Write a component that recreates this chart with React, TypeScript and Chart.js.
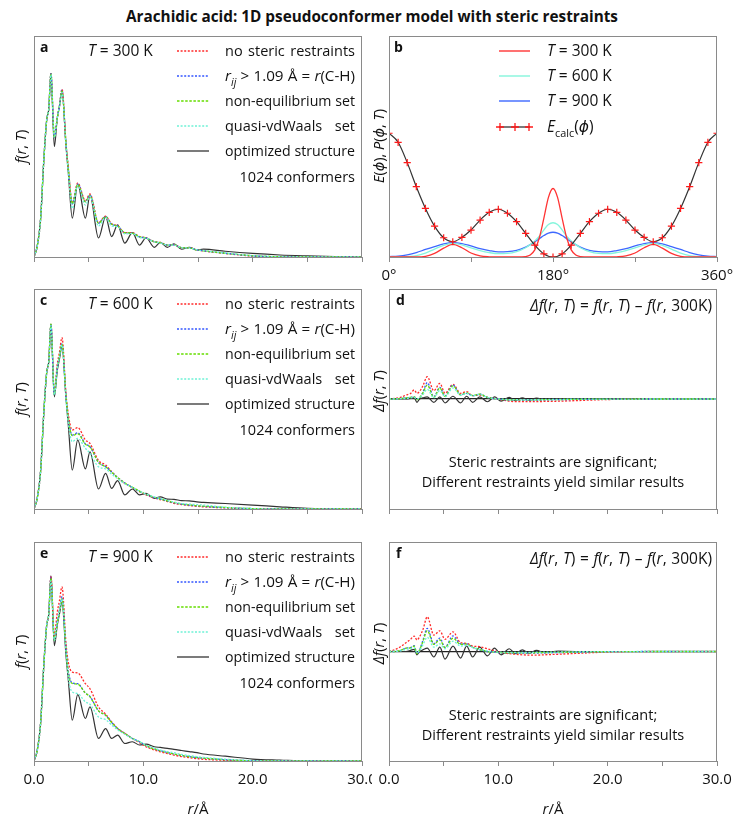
import React, { useEffect, useRef } from "react";
import { Chart, registerables } from "chart.js";
Chart.register(...registerables);

// ---------------- data ----------------
// r grid (Å) for f(r,T) panels
const R = [0, 0.3, 0.6, 0.9, 1.16, 1.35, 1.55, 1.86, 2.13, 2.32, 2.56, 2.93, 3.14, 3.5, 4.0, 4.7, 5.12, 5.9, 6.55, 7.1, 7.65, 8.3, 9.0, 9.65, 10.25, 11.0, 11.55, 12.2, 12.8, 13.5, 14.2, 14.9, 15.5, 17.5, 20, 22.5, 25, 27.5, 30];

// panel a, T = 300 K
const A_BLACK = [0, 5, 17, 44, 62, 67, 83, 50, 63, 68, 75, 50, 38, 17.6, 33, 17.6, 28, 8.6, 18.2, 9.2, 14.5, 6.3, 11, 5.4, 8.7, 4.4, 6.6, 4.4, 5.9, 3.5, 4.4, 3.2, 3.6, 2.6, 1.6, 0.9, 0.5, 0.2, 0];
const A_RED = [0, 5, 17, 44, 62, 67, 83, 54, 63, 68, 76, 51, 40, 24.4, 33.5, 25.5, 28.5, 15.5, 18.5, 15, 14.2, 11, 11, 9.2, 8.7, 6.9, 6.6, 5.4, 5.6, 4.2, 4.2, 3.2, 2.7, 1.6, 0.4, 0.1, 0, 0, 0];
const A_BLUE = [0, 5, 17, 44, 62, 67, 83, 54, 63, 68, 75.5, 51, 40, 24, 33, 25, 28, 15.3, 18.3, 14.8, 14, 11, 10.8, 9.1, 8.6, 6.9, 6.5, 5.4, 5.5, 4.2, 4.1, 3.2, 2.8, 1.7, 0.5, 0.1, 0, 0, 0];
const A_GREEN = [0, 5, 17, 44, 62, 67, 83, 54, 63, 68, 75, 51, 40, 24, 32.8, 25, 27.8, 15.3, 18.2, 14.8, 14, 11, 10.8, 9.1, 8.6, 6.9, 6.5, 5.4, 5.5, 4.2, 4.1, 3.2, 2.8, 1.7, 0.6, 0.1, 0, 0, 0];
const A_CYAN = [0, 5, 17, 44, 62, 67, 82.5, 54, 63, 68, 74.5, 50, 38, 22, 32.5, 23.5, 27.5, 14, 17.8, 14, 13.8, 10.5, 10.6, 8.8, 8.5, 6.8, 6.4, 5.4, 5.4, 4.2, 4.1, 3.3, 2.9, 1.8, 0.6, 0.1, 0, 0, 0];

// panel c, T = 600 K
const C_BLACK = [0, 5, 17, 44, 62, 67, 84, 51, 63, 68, 73.8, 50, 38, 17.7, 31.4, 18.2, 26, 9.1, 16.2, 9.4, 12.9, 6.4, 9.1, 6.4, 7.1, 4.8, 5.5, 4.5, 4.4, 3.8, 3.7, 3.2, 3, 2.5, 1.8, 1.0, 0.3, 0, 0];
const C_RED = [0, 5, 17, 44, 62, 67, 84, 53, 66, 71, 77.9, 52, 43, 35.9, 37, 31.4, 29.8, 22, 20, 17, 14.2, 11.7, 9.7, 7.9, 6.4, 5, 4.3, 3.4, 2.6, 2.0, 1.6, 1.2, 1.0, 0.5, 0.1, 0, 0, 0, 0];
const C_BLUE = [0, 5, 17, 44, 62, 67, 84, 52, 64, 69, 75, 51, 41, 33.6, 34.6, 29.6, 28.3, 21.2, 19.2, 16.8, 14.3, 11.8, 9.8, 8, 6.6, 5.2, 4.5, 3.6, 2.9, 2.2, 1.8, 1.4, 1.2, 0.6, 0.2, 0, 0, 0, 0];
const C_GREEN = [0, 5, 17, 44, 62, 67, 84, 52, 64, 69, 74.9, 51, 41, 33.3, 34.2, 29.4, 28.3, 21.2, 19.2, 16.8, 14.3, 11.8, 9.9, 8.1, 6.7, 5.3, 4.6, 3.7, 3.0, 2.3, 1.9, 1.5, 1.3, 0.7, 0.2, 0, 0, 0, 0];
const C_CYAN = [0, 5, 17, 44, 62, 67, 83.5, 52, 64, 69, 74.5, 50, 39, 30.6, 32.1, 27.6, 25.3, 19.2, 18.2, 15.8, 13.8, 11.5, 9.8, 8.1, 6.8, 5.5, 4.8, 4.0, 3.2, 2.5, 2.2, 2.0, 1.8, 0.8, 0.2, 0, 0, 0, 0];

// panel e, T = 900 K
const E_BLACK = [0, 5, 17, 44, 62, 67, 84.5, 52.7, 62, 67, 72.4, 48, 37, 18.6, 30.3, 19.4, 24.7, 10.3, 14.8, 10.3, 11.8, 8, 8.8, 7.3, 7.7, 6.5, 6.2, 5.8, 5.3, 4.8, 4.3, 3.8, 3.2, 2.2, 0.9, 0.4, 0, 0, 0];
const E_RED = [0, 5, 17, 44, 62, 67, 84.5, 57.3, 68, 73, 79.5, 53.5, 45, 40.6, 40.2, 35.3, 33, 24.7, 21.4, 17.9, 14.8, 12.6, 10.3, 8.4, 6.5, 5, 4.2, 3.4, 2.7, 2.0, 1.5, 1.1, 0.8, 0.3, 0, 0, 0, 0, 0];
const E_BLUE = [0, 5, 17, 44, 62, 67, 84, 55, 64, 69, 75, 51, 41, 35.6, 35.3, 31, 29.5, 22.9, 20.9, 17.6, 14.8, 12.6, 10.3, 8.8, 7.0, 5.5, 4.7, 3.9, 3.2, 2.5, 2.0, 1.6, 1.3, 0.6, 0.1, 0, 0, 0, 0];
const E_GREEN = [0, 5, 17, 44, 62, 67, 83.5, 55, 63, 68, 74, 50.5, 40, 35.4, 35.1, 31, 29.3, 22.9, 20.9, 17.6, 14.8, 12.6, 10.3, 8.8, 7.0, 5.5, 4.7, 3.9, 3.2, 2.5, 2.0, 1.6, 1.3, 0.6, 0.1, 0, 0, 0, 0];
const E_CYAN = [0, 5, 17, 44, 62, 67, 82.3, 55, 63, 68, 74, 50, 38, 31.5, 30.8, 27, 25.9, 20.1, 18.9, 16.4, 14.2, 12.2, 10.3, 8.8, 7.2, 5.8, 5.0, 4.3, 3.8, 3.0, 2.5, 2.0, 1.7, 0.8, 0.2, 0, 0, 0, 0];

// r grid for Δf panels
const RD = [0, 0.5, 1.05, 1.55, 1.97, 2.3, 2.56, 2.8, 3.1, 3.5, 4.1, 4.65, 5.12, 5.85, 6.55, 7.1, 7.65, 8.3, 9.0, 9.65, 10.25, 11.0, 11.55, 12.2, 12.8, 13.5, 14.2, 15.5, 17, 20, 25, 30];

// panel d, Δf(r, 600 K)
const D_RED = [0, 0.5, 1.5, 3.6, 5, 8.2, 5.2, 7, 12, 20.3, 7.6, 14.2, 5.2, 13.3, 5.2, 6.7, 3, 3.6, 1.5, 0.6, -0.5, -2, -2.4, -2.4, -2.4, -2.4, -2.2, -2, -1.5, -0.5, 0, 0];
const D_BLUE = [0, 0, 0.5, 1, 1.5, 2, 0, 1, 6, 14.8, 2, 10.6, 2.7, 12.7, 3.6, 5.2, 3, 4.5, 1.5, 0.3, -0.3, -1, -1, -1, -1, -1, -0.8, -0.6, -0.4, -0.2, 0, 0];
const D_GREEN = [0, 0, 0.5, 1, 1.5, 2, -0.5, 1, 5.5, 12.7, 1.5, 10, 2.5, 12, 3.8, 5.5, 3.2, 4.5, 1.5, 0.3, -0.3, -0.8, -0.8, -0.8, -0.8, -0.8, -0.6, -0.5, -0.3, -0.1, 0, 0];
const D_CYAN = [0, 0, 0.3, 0.5, 1, 1.5, 0, 1, 4, 8.8, 1, 7.6, 2, 10, 3.5, 5, 3, 4, 1.5, 0.5, 0, -0.5, -0.5, -0.5, -0.5, -0.5, -0.4, -0.3, -0.2, -0.1, 0, 0];
const D_BLACK = [0, 0, 0, 0, 0.5, 1, -3, 0, 1, 2, -3, 2, -3.5, 2.5, -3.5, 2.5, -3, 2, -2.5, 2, -2, 1.5, -1.5, 1, -1, 0.8, -0.6, 0.3, 0, 0, 0, 0];

// panel f, Δf(r, 900 K)
const F_RED = [0, 1.5, 4.4, 8, 11.1, 14.1, 10.5, 13.5, 20, 31.6, 15, 18.9, 11.1, 18, 8, 7.4, 5, 4.4, 2.5, 0.6, -0.8, -2, -2.5, -3, -3.3, -3.3, -3, -2.5, -1.8, -0.5, 0, 0];
const F_BLUE = [0, 0, 1, 3, 3.6, 5.3, -2, 1.5, 10, 21.1, 7, 12.2, 3.9, 14.2, 7, 7, 3.9, 1.5, 0, -0.6, -1.2, -1.5, -1.5, -1.5, -1.5, -1.4, -1.2, -1, -0.7, -0.2, 0, 0];
const F_GREEN = [0, 0, 1, 3, 3.4, 5, -2, 1.5, 9, 19, 6.5, 10.6, 3.5, 12.1, 6.5, 6.8, 3.9, 1.8, 0, -0.5, -1, -1.2, -1.2, -1.2, -1.2, -1.1, -1, -0.8, -0.5, -0.2, 0, 0];
const F_CYAN = [0, 0, 0.5, 2, 2.5, 3.5, -1, 1, 6, 13, 4, 7, 2.5, 9.4, 5, 5.5, 3.5, 2, 0.5, -0.3, -0.6, -0.8, -0.8, -0.8, -0.8, -0.7, -0.6, -0.5, -0.3, -0.1, 0, 0];
const F_BLACK = [0, 0, 0, 0, 1, 2, -3, 0, 1.5, 3, -5, 4, -7, 5, -6, 5, -5, 4, -4, 3, -3, 2.5, -2, 1.5, -1.5, 1, -1, 0.3, 0, 0, 0, 0];

// panel b: torsion energy and probabilities
const PHI_E = [0, 10, 20, 30, 40, 50, 60, 70, 80, 90, 100, 110, 120, 130, 140, 150, 160, 170, 180, 190, 200, 210, 220, 230, 240, 250, 260, 270, 280, 290, 300, 310, 320, 330, 340, 350, 360];
const E_CALC = [56, 51.9, 42.7, 31.8, 22, 14, 8.7, 6.9, 8.9, 12.2, 16.7, 20.2, 21.6, 19.8, 16, 10.7, 5.4, 1.4, 0, 1.4, 5.4, 10.7, 16, 19.8, 21.6, 20.2, 16.7, 12.2, 8.9, 6.9, 8.7, 14, 22, 31.8, 42.7, 51.9, 56];
const PHI_P = [0, 10, 20, 30, 40, 50, 60, 70, 80, 90, 100, 110, 120, 130, 140, 150, 155, 160, 165, 170, 175, 180, 185, 190, 195, 200, 205, 210, 220, 230, 240, 250, 260, 270, 280, 290, 300, 310, 320, 330, 340, 350, 360];
const P300 = [0, 0, 0, 0, 0.3, 1.6, 4, 5.7, 4.2, 1.8, 0.5, 0.1, 0, 0, 0, 0.2, 0.9, 3.2, 8.7, 17.6, 27, 31, 27, 17.6, 8.7, 3.2, 0.9, 0.2, 0, 0, 0, 0.1, 0.5, 1.8, 4.2, 5.7, 4, 1.6, 0.3, 0, 0, 0, 0];
const P600 = [0, 0.05, 0.2, 0.6, 1.8, 3.6, 5.3, 6.2, 5.5, 4.1, 2.9, 2.0, 1.5, 1.6, 2.4, 4.2, 5.6, 7.3, 9.4, 12.3, 14.7, 15.5, 14.7, 12.3, 9.4, 7.3, 5.6, 4.2, 2.4, 1.6, 1.5, 2.0, 2.9, 4.1, 5.5, 6.2, 5.3, 3.6, 1.8, 0.6, 0.2, 0.05, 0];
const P900 = [0.15, 0.4, 1.0, 2.0, 3.4, 4.7, 5.9, 6.5, 6.1, 5.0, 3.8, 2.9, 2.3, 2.4, 3.0, 4.5, 5.6, 6.9, 8.3, 9.7, 10.8, 11.2, 10.8, 9.7, 8.3, 6.9, 5.6, 4.5, 3.0, 2.4, 2.3, 2.9, 3.8, 5.0, 6.1, 6.5, 5.9, 4.7, 3.4, 2.0, 1.0, 0.4, 0.15];

// tick labels
const R_TICK_VALUES = [0, 10, 20, 30];
const R_TICK_LABELS = ["0.0", "10.0", "20.0", "30.0"];
const PHI_TICK_VALUES = [0, 180, 360];
const PHI_TICK_LABELS = ["0°", "180°", "360°"];

// ---------------- style ----------------
const FONT = '"Open Sans", "DejaVu Sans", sans-serif';
const GRAY = "#8a8a8a";
const RED = "#ff2a2a";
const BLUE = "#3355ff";
const GREEN = "#66dd00";
const CYAN = "#6ff2d6";
const BLACK = "#333333";
const B_RED = "#ff3434";
const B_CYAN = "#85f5dc";
const B_BLUE = "#3d68ff";
const TXT = 14.5;

type Seg = { t: string; i?: boolean; b?: boolean; sub?: boolean };
const S = (t: string): Seg => ({ t });
const I = (t: string): Seg => ({ t, i: true });

function segFont(s: Seg, size: number) {
  const sz = s.sub ? size * 0.7 : size;
  return `${s.i ? "italic " : ""}${s.b ? "bold " : ""}${sz}px ${FONT}`;
}

type RichOpts = { align?: "left" | "center" | "right"; size?: number; rot?: number; width?: number };

function drawRich(ctx: CanvasRenderingContext2D, segs: Seg[], x: number, y: number, o: RichOpts = {}) {
  const size = o.size ?? TXT;
  ctx.save();
  ctx.translate(x, y);
  if (o.rot) ctx.rotate(o.rot);
  ctx.textAlign = "left";
  ctx.textBaseline = "alphabetic";
  ctx.fillStyle = "#111";
  let natural = 0;
  let spaces = 0;
  for (const s of segs) {
    ctx.font = segFont(s, size);
    natural += ctx.measureText(s.t).width;
    spaces += (s.t.match(/ /g) || []).length;
  }
  if (o.width && natural > o.width) {
    ctx.restore();
    drawRich(ctx, segs, x, y, { ...o, width: undefined, size: (size * o.width) / natural });
    return;
  }
  const extra = o.width && spaces ? (o.width - natural) / spaces : 0;
  const total = natural + extra * spaces;
  let cx = o.align === "center" ? -total / 2 : o.align === "right" ? -total : 0;
  for (const s of segs) {
    ctx.font = segFont(s, size);
    const dy = s.sub ? size * 0.3 : 0;
    const parts = s.t.split(" ");
    parts.forEach((p, k) => {
      if (p) {
        ctx.fillText(p, cx, dy);
        cx += ctx.measureText(p).width;
      }
      if (k < parts.length - 1) cx += ctx.measureText(" ").width + extra;
    });
  }
  ctx.restore();
}

function legendLine(ctx: CanvasRenderingContext2D, x1: number, x2: number, y: number, color: string, dash: number[], w: number) {
  ctx.save();
  ctx.strokeStyle = color;
  ctx.lineWidth = w;
  ctx.setLineDash(dash);
  ctx.beginPath();
  ctx.moveTo(x1, y);
  ctx.lineTo(x2, y);
  ctx.stroke();
  ctx.restore();
}

const pts = (xs: number[], ys: number[]) => xs.map((x, i) => ({ x, y: ys[i] }));

function curve(xs: number[], ys: number[], color: string, dash: number[], order: number, width = 1.3) {
  return {
    data: pts(xs, ys),
    borderColor: color,
    backgroundColor: color,
    borderDash: dash,
    borderWidth: width,
    pointRadius: 0,
    cubicInterpolationMode: "monotone",
    fill: false,
    order,
  };
}

const SERIES_STYLE = [
  { color: RED, dash: [2, 1.6] },
  { color: BLUE, dash: [2, 1.6] },
  { color: GREEN, dash: [2.5, 1.6] },
  { color: CYAN, dash: [2, 1.6] },
  { color: BLACK, dash: [] as number[] },
];

function fSets(xs: number[], red: number[], blue: number[], green: number[], cyan: number[], black: number[]) {
  return [
    curve(xs, black, BLACK, [], 4, 1.2),
    curve(xs, red, RED, SERIES_STYLE[0].dash, 3),
    curve(xs, blue, BLUE, SERIES_STYLE[1].dash, 2),
    curve(xs, green, GREEN, SERIES_STYLE[2].dash, 1),
    curve(xs, cyan, CYAN, SERIES_STYLE[3].dash, 0),
  ];
}

const fTitle: Seg[] = [I("f"), S("("), I("r"), S(", "), I("T"), S(")")];
const dfTitle: Seg[] = [I("Δf"), S("("), I("r"), S(", "), I("T"), S(")")];
const rTitle: Seg[] = [I("r"), S("/Å")];

function fDeco(letter: string, top: number, bottom: number, temp: string, withX: boolean) {
  return (ctx: CanvasRenderingContext2D) => {
    drawRich(ctx, [{ t: letter, b: true }], 40, top + 16, { size: 14 });
    drawRich(ctx, [I("T"), S(` = ${temp} K`)], 88, top + 20, { size: 15.5 });
    const names: Seg[][] = [
      [S("no steric restraints")],
      [I("r"), { t: "ij", i: true, sub: true }, S(" > 1.09 Å = "), I("r"), S("(C-H)")],
      [S("non-equilibrium set")],
      [S("quasi-vdWaals set")],
      [S("optimized structure")],
    ];
    const sizes = [TXT, 15.2, TXT, TXT, TXT];
    names.forEach((segs, k) => {
      const yc = top + 15 + k * 25;
      const st = SERIES_STYLE[k];
      legendLine(ctx, 177, 209, yc, st.color, st.dash, k === 4 ? 1.3 : 1.4);
      drawRich(ctx, segs, 225, yc + 5, { width: 130, size: sizes[k] });
    });
    drawRich(ctx, [S("1024 conformers")], 355, top + 146, { align: "right" });
    drawRich(ctx, fTitle, 26, (top + bottom) / 2, { align: "center", rot: -Math.PI / 2 });
    if (withX) drawRich(ctx, rTitle, 198, 814, { align: "center", size: 15 });
  };
}

function dDeco(letter: string, top: number, bottom: number, withX: boolean) {
  return (ctx: CanvasRenderingContext2D) => {
    drawRich(ctx, [{ t: letter, b: true }], 396, top + 16, { size: 14 });
    drawRich(
      ctx,
      [I("Δf"), S("("), I("r"), S(", "), I("T"), S(") = "), I("f"), S("("), I("r"), S(", "), I("T"), S(") – "), I("f"), S("("), I("r"), S(", 300K)")],
      712,
      top + 22,
      { align: "right", size: 15.5, width: 182 }
    );
    drawRich(ctx, [S("Steric restraints are significant;")], 553, top + 178, { align: "center" });
    drawRich(ctx, [S("Different restraints yield similar results")], 553, top + 198, { align: "center" });
    drawRich(ctx, dfTitle, 384, (top + bottom) / 2 - 8, { align: "center", rot: -Math.PI / 2 });
    if (withX) drawRich(ctx, rTitle, 553, 814, { align: "center", size: 15 });
  };
}

function bDeco(ctx: CanvasRenderingContext2D) {
  const top = 36;
  drawRich(ctx, [{ t: "b", b: true }], 394, top + 16, { size: 14 });
  const items: [string, string][] = [
    ["300", B_RED],
    ["600", B_CYAN],
    ["900", B_BLUE],
  ];
  items.forEach(([temp, col], k) => {
    const yc = top + 15 + k * 25;
    legendLine(ctx, 499, 530, yc, col, [], 1.4);
    drawRich(ctx, [I("T"), S(` = ${temp} K`)], 547, yc + 5, { size: 15.5 });
  });
  const ye = top + 91;
  legendLine(ctx, 499, 530, ye, BLACK, [], 1.3);
  ctx.save();
  ctx.strokeStyle = "#ff1a1a";
  ctx.lineWidth = 1.3;
  [500, 515, 529].forEach((mx) => {
    ctx.beginPath();
    ctx.moveTo(mx - 4, ye);
    ctx.lineTo(mx + 4, ye);
    ctx.moveTo(mx, ye - 4);
    ctx.lineTo(mx, ye + 4);
    ctx.stroke();
  });
  ctx.restore();
  drawRich(ctx, [I("E"), { t: "calc", sub: true }, S("("), I("ϕ"), S(")")], 547, ye + 5, { size: 15.5 });
  drawRich(
    ctx,
    [I("E"), S("("), I("ϕ"), S("), "), I("P"), S("("), I("ϕ"), S(", "), I("T"), S(")")],
    384,
    146,
    { align: "center", rot: -Math.PI / 2 }
  );
}

type Spec = {
  cl: number; ct: number; cw: number; ch: number;
  box: { l: number; t: number; r: number; b: number };
  xMin: number; xMax: number; xStep: number;
  tickVals: number[]; tickLabels: string[]; showLabels: boolean;
  yMin: number; yMax: number; zeroLine: boolean;
  datasets: any[];
  deco: (ctx: CanvasRenderingContext2D) => void;
};

function buildConfig(s: Spec): any {
  const pad = { left: s.box.l - s.cl, right: s.cl + s.cw - s.box.r, top: s.box.t - s.ct, bottom: 0 };
  const bottomSpace = s.ct + s.ch - s.box.b;
  return {
    type: "line",
    data: { datasets: s.datasets },
    options: {
      responsive: false,
      maintainAspectRatio: false,
      animation: false,
      devicePixelRatio: 1,
      layout: { padding: pad },
      plugins: { legend: { display: false }, tooltip: { enabled: false }, title: { display: false } },
      scales: {
        x: {
          type: "linear",
          min: s.xMin,
          max: s.xMax,
          afterFit: (sc: any) => {
            sc.height = bottomSpace;
            sc.paddingLeft = 0;
            sc.paddingRight = 0;
          },
          border: { display: true, color: GRAY, width: 1 },
          grid: { drawOnChartArea: false, drawTicks: true, tickLength: 5, color: GRAY, tickColor: GRAY, tickWidth: 1 },
          ticks: {
            display: s.showLabels,
            stepSize: s.xStep,
            autoSkip: false,
            maxRotation: 0,
            minRotation: 0,
            padding: 5,
            color: "#111",
            font: { family: FONT, size: 15 },
            callback: (v: number) => {
              const k = s.tickVals.indexOf(v);
              return k >= 0 ? s.tickLabels[k] : "";
            },
          },
        },
        y: {
          type: "linear",
          min: s.yMin,
          max: s.yMax,
          display: s.zeroLine,
          afterFit: (sc: any) => {
            sc.width = 0;
          },
          border: { display: false },
          grid: {
            drawTicks: false,
            lineWidth: 1.2,
            color: (c: any) => (c.tick && c.tick.value === 0 ? "#222" : "rgba(0,0,0,0)"),
          },
          ticks: { display: false, stepSize: 100 },
        },
      },
    },
    plugins: [
      {
        id: "deco",
        afterDraw: (chart: any) => {
          const ctx: CanvasRenderingContext2D = chart.ctx;
          const a = chart.chartArea;
          ctx.save();
          ctx.strokeStyle = GRAY;
          ctx.lineWidth = 1;
          ctx.strokeRect(Math.round(a.left) + 0.5, Math.round(a.top) + 0.5, Math.round(a.right - a.left) - 1, Math.round(a.bottom - a.top));
          ctx.translate(-s.cl, -s.ct);
          s.deco(ctx);
          ctx.restore();
        },
      },
    ],
  };
}

function Panel({ spec }: { spec: Spec }) {
  const ref = useRef<HTMLCanvasElement>(null);
  useEffect(() => {
    const chart = new Chart(ref.current as HTMLCanvasElement, buildConfig(spec));
    return () => chart.destroy();
  }, []);
  return (
    <canvas
      ref={ref}
      width={spec.cw}
      height={spec.ch}
      style={{ position: "absolute", left: spec.cl, top: spec.ct, width: spec.cw, height: spec.ch }}
    />
  );
}

const rAxis = { xMin: 0, xMax: 30, xStep: 5, tickVals: R_TICK_VALUES, tickLabels: R_TICK_LABELS };

const SPECS: Spec[] = [
  {
    cl: 0, ct: 26, cw: 372, ch: 251, box: { l: 34, t: 36, r: 362, b: 257 }, ...rAxis, showLabels: false,
    yMin: 0, yMax: 100, zeroLine: false,
    datasets: fSets(R, A_RED, A_BLUE, A_GREEN, A_CYAN, A_BLACK),
    deco: fDeco("a", 36, 257, "300", false),
  },
  {
    cl: 372, ct: 26, cw: 372, ch: 259, box: { l: 389, t: 36, r: 717, b: 257 },
    xMin: 0, xMax: 360, xStep: 90, tickVals: PHI_TICK_VALUES, tickLabels: PHI_TICK_LABELS, showLabels: true,
    yMin: 0, yMax: 100, zeroLine: false,
    datasets: [
      {
        data: pts(PHI_E, E_CALC),
        borderColor: BLACK,
        borderWidth: 1.2,
        pointStyle: "cross",
        pointRadius: 3.6,
        pointBorderColor: "#ff1a1a",
        pointBackgroundColor: "#ff1a1a",
        pointBorderWidth: 1.2,
        cubicInterpolationMode: "monotone",
        fill: false,
        order: 0,
      },
      curve(PHI_P, P300, B_RED, [], 1, 1.3),
      curve(PHI_P, P600, B_CYAN, [], 2, 1.3),
      curve(PHI_P, P900, B_BLUE, [], 3, 1.3),
    ],
    deco: bDeco,
  },
  {
    cl: 0, ct: 279, cw: 372, ch: 250, box: { l: 34, t: 289, r: 362, b: 509 }, ...rAxis, showLabels: false,
    yMin: 0, yMax: 100, zeroLine: false,
    datasets: fSets(R, C_RED, C_BLUE, C_GREEN, C_CYAN, C_BLACK),
    deco: fDeco("c", 289, 509, "600", false),
  },
  {
    cl: 372, ct: 279, cw: 372, ch: 250, box: { l: 389, t: 289, r: 717, b: 509 }, ...rAxis, showLabels: false,
    yMin: -100, yMax: 100, zeroLine: true,
    datasets: fSets(RD, D_RED, D_BLUE, D_GREEN, D_CYAN, D_BLACK),
    deco: dDeco("d", 289, 509, false),
  },
  {
    cl: 0, ct: 532, cw: 372, ch: 292, box: { l: 34, t: 542, r: 362, b: 761 }, ...rAxis, showLabels: true,
    yMin: 0, yMax: 100, zeroLine: false,
    datasets: fSets(R, E_RED, E_BLUE, E_GREEN, E_CYAN, E_BLACK),
    deco: fDeco("e", 542, 761, "900", true),
  },
  {
    cl: 372, ct: 532, cw: 372, ch: 292, box: { l: 389, t: 542, r: 717, b: 761 }, ...rAxis, showLabels: true,
    yMin: -100, yMax: 100, zeroLine: true,
    datasets: fSets(RD, F_RED, F_BLUE, F_GREEN, F_CYAN, F_BLACK),
    deco: dDeco("f", 542, 761, true),
  },
];

export default function App() {
  return (
    <div style={{ position: "absolute", left: 0, top: 0, width: 744, height: 824, background: "#fff", overflow: "hidden" }}>
      <div
        style={{
          position: "absolute",
          left: 0,
          top: 6,
          width: 744,
          textAlign: "center",
          fontFamily: FONT,
          fontWeight: 700,
          fontSize: 15.3,
          lineHeight: "20px",
          color: "#111",
        }}
      >
        Arachidic acid: 1D pseudoconformer model with steric restraints
      </div>
      {SPECS.map((s, k) => (
        <Panel key={k} spec={s} />
      ))}
    </div>
  );
}
